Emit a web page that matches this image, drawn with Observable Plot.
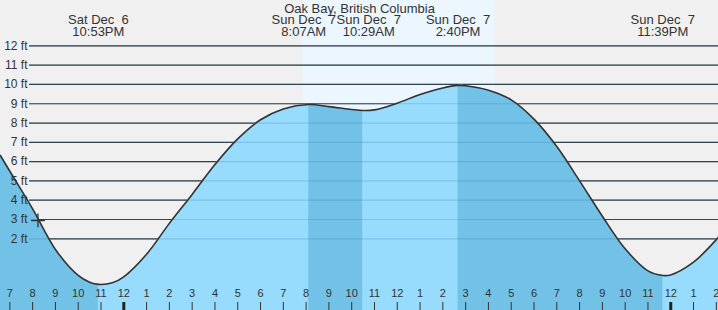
<!DOCTYPE html>
<html><head><meta charset="utf-8">
<script src="https://cdn.jsdelivr.net/npm/d3@7"></script>
<script src="https://cdn.jsdelivr.net/npm/@observablehq/plot@0.6"></script>
<style>
body{margin:0;background:#f0f0f0;}
svg text{white-space:pre;}
</style>
</head><body><div id="chart"></div>
<script>
const title = "Oak Bay, British Columbia";

// tide curve (UTC used as local clock time)
const tideTimes = [
  "2025-12-06T18:35","2025-12-06T19:00","2025-12-06T20:00","2025-12-06T21:00","2025-12-06T22:00","2025-12-06T22:30",
  "2025-12-06T22:53","2025-12-06T23:30",
  "2025-12-07T00:00","2025-12-07T01:00","2025-12-07T02:00","2025-12-07T03:00","2025-12-07T04:00","2025-12-07T05:00",
  "2025-12-07T06:00","2025-12-07T07:00","2025-12-07T08:07","2025-12-07T09:00","2025-12-07T10:00","2025-12-07T10:29",
  "2025-12-07T11:00","2025-12-07T12:00","2025-12-07T13:00","2025-12-07T14:00","2025-12-07T14:40","2025-12-07T15:00",
  "2025-12-07T16:00","2025-12-07T17:00","2025-12-07T18:00","2025-12-07T19:00","2025-12-07T20:00","2025-12-07T21:00",
  "2025-12-07T22:00","2025-12-07T23:00","2025-12-07T23:39","2025-12-08T00:00","2025-12-08T01:00","2025-12-08T02:00",
  "2025-12-08T02:06"
];
const tideFeet = [
  6.32, 5.5, 3.55, 1.45, 0.1, -0.25,
  -0.36, -0.28,
  0.03, 1.2, 2.8, 4.3, 5.85, 7.18,
  8.17, 8.73, 8.96, 8.85, 8.7, 8.65,
  8.68, 9.03, 9.48, 9.82, 9.95, 9.93,
  9.7, 9.2, 8.2, 6.78, 5.0, 3.17,
  1.48, 0.34, 0.1, 0.13, 0.79, 1.96,
  2.1
];

// high / low labels
const extremeTimes = ["2025-12-06T22:53","2025-12-07T08:07","2025-12-07T10:29","2025-12-07T14:40","2025-12-07T23:39"];
const extremeDays  = ["Sat Dec  6","Sun Dec  7","Sun Dec  7","Sun Dec  7","Sun Dec  7"];
const extremeClock = ["10:53PM","8:07AM","10:29AM","2:40PM","11:39PM"];
const extremeKinds = ["low","high","low","high","low"];
const extremeNudge = [0,-5,6,0,0];

const daylight = ["2025-12-07T07:51","2025-12-07T16:17"];
const gridFeet = [2,3,4,5,6,7,8,9,10,11,12];
const markerTime = "2025-12-06T20:14";
const markerFeet = 2.95;

const xDomain = ["2025-12-06T18:35:24","2025-12-08T02:05:42"];
const yDomain = [-1.715, 14.35];

const parse = s => new Date(s.length === 16 ? s + ":00Z" : s + "Z");
const tide = tideTimes.map((t, i) => ({time: parse(t), ft: tideFeet[i]}));
const extremes = extremeTimes.map((t, i) => ({
  time: parse(t), label: extremeDays[i] + "\n" + extremeClock[i], kind: extremeKinds[i], nudge: extremeNudge[i]
}));
const x0 = parse(xDomain[0]), x1 = parse(xDomain[1]);

// falling-tide intervals (darker fill)
const falling = [];
if (extremes[0].kind === "low") falling.push([x0, extremes[0].time]);
extremes.forEach((e, i) => {
  if (e.kind === "high") falling.push([e.time, i + 1 < extremes.length ? extremes[i + 1].time : x1]);
});

const hours = d3.utcHour.range(d3.utcHour.ceil(x0), x1);
const midnights = hours.filter(d => d.getUTCHours() === 0);
const others = hours.filter(d => d.getUTCHours() !== 0);
const hourFmt = d3.utcFormat("%-I");

const font = "'Liberation Sans', Arial, sans-serif";
const curve = "catmull-rom";

const plot = Plot.plot({
  width: 718,
  height: 310,
  marginTop: 0, marginRight: 0, marginBottom: 0, marginLeft: 0,
  style: {background: "#f0f0f0", fontFamily: font, color: "#333", overflow: "visible"},
  x: {type: "utc", domain: [x0, x1], axis: null},
  y: {domain: yDomain, axis: null},
  marks: [
    Plot.rect([{a: parse(daylight[0]), b: parse(daylight[1])}], {x1: "a", x2: "b", fill: "#ecf6fe"}),
    Plot.ruleY(gridFeet, {y: d => d, insetLeft: 29, stroke: "#333", strokeWidth: 1.2}),
    Plot.areaY(tide, {x: "time", y1: yDomain[0], y2: "ft", fill: "#97dcfd", curve}),
    Plot.areaY(tide, {x: "time", y1: yDomain[0], y2: "ft", fill: "#72c1e6", curve}),
    Plot.ruleY(gridFeet, {y: d => d, insetLeft: 29, stroke: "#2b7bb0", strokeOpacity: 0.25, strokeWidth: 1.2}),
    Plot.line(tide, {x: "time", y: "ft", stroke: "#333", strokeWidth: 1.6, curve}),
    Plot.dot([{time: parse(markerTime), ft: markerFeet}], {x: "time", y: "ft", symbol: "plus", r: 4.5, stroke: "#333", strokeWidth: 1.3}),
    Plot.text(gridFeet, {y: d => d, text: d => `${d} ft`, frameAnchor: "left", textAnchor: "end", dx: 27, fontSize: 12, fill: "#333"}),
    Plot.ruleX(others, {x: d => d, insetTop: 302, stroke: "#333", strokeWidth: 1}),
    Plot.ruleX(midnights, {x: d => d, insetTop: 302, stroke: "#222", strokeWidth: 3}),
    Plot.text(hours, {x: d => d, text: d => hourFmt(d), frameAnchor: "bottom", dy: -14, fontSize: 11, fill: "#333"}),
    Plot.text([title], {text: d => d, frameAnchor: "top", lineAnchor: "top", dy: 3.3, fontSize: 13, fill: "#333"}),
    Plot.text(extremes.filter(d => d.nudge === 0), {x: "time", text: "label", frameAnchor: "top", lineAnchor: "top", dy: 15.3, fontSize: 13, lineHeight: 0.923, fill: "#333"}),
    Plot.text(extremes.filter(d => d.nudge < 0), {x: "time", text: "label", frameAnchor: "top", lineAnchor: "top", dy: 15.3, dx: -5, fontSize: 13, lineHeight: 0.923, fill: "#333"}),
    Plot.text(extremes.filter(d => d.nudge > 0), {x: "time", text: "label", frameAnchor: "top", lineAnchor: "top", dy: 15.3, dx: 6, fontSize: 13, lineHeight: 0.923, fill: "#333"})
  ]
});

// clip the darker fill to the falling-tide intervals, positioned with the plot's own x scale
const xs = plot.scale("x");
const xScale = d3.scaleUtc().domain(xs.domain).range(xs.range);
const svg = d3.select(plot);
const defs = svg.append("defs");
const clip = defs.append("clipPath").attr("id", "falling-clip").attr("clipPathUnits", "userSpaceOnUse");
falling.forEach(([a, b]) => {
  const xa = xScale(a), xb = xScale(b);
  clip.append("rect").attr("x", Math.min(xa, xb)).attr("width", Math.abs(xb - xa)).attr("y", 0).attr("height", 310);
});
const areas = svg.selectAll('g[aria-label="area"]').nodes();
if (areas.length > 1) d3.select(areas[1]).attr("clip-path", "url(#falling-clip)");

document.getElementById("chart").appendChild(plot);
</script>
</body></html>
